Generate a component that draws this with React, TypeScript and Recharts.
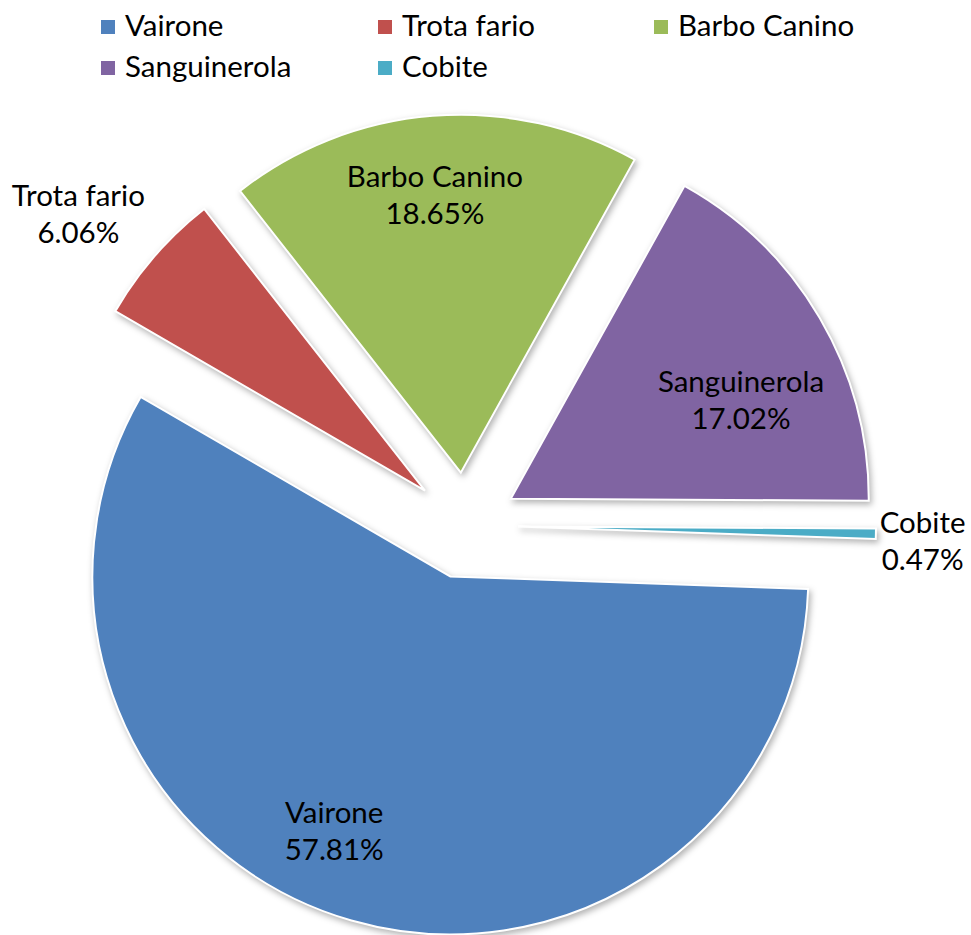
import React from "react";
import { PieChart, Pie, Cell, Legend } from "recharts";

// species and their share of the catch (%)
const species = ["Vairone", "Trota fario", "Barbo Canino", "Sanguinerola", "Cobite"];
const shares = [57.81, 6.06, 18.65, 17.02, 0.47];

const palette = ["#4F81BD", "#C0504D", "#9BBB59", "#8064A2", "#4BACC6"];

const data = species.map((name, i) => ({ name, value: shares[i] }));
const total = shares.reduce((a, b) => a + b, 0);

const W = 971;
const H = 935;
const LEGEND_H = 90;
const CX = 465;
const CY = 525.5;
const R = 358;
const EXPLODE = 53;
const START = -2;
const RAD = Math.PI / 180;
const FONT = "Lato, 'Open Sans', sans-serif";
const FS = 29.5;

// label spot per slice: fraction of radius + angle nudge from the slice middle
const labelSpots = [
  { reach: 0.781, nudge: -8.5 },
  { reach: 1.239, nudge: 2.4 },
  { reach: 0.779, nudge: 0.8 },
  { reach: 0.7, nudge: -7.1 },
  { reach: 1.131, nudge: -0.9 },
];

const legendCols = [101, 378, 654];
const legendRows = [20, 61];

function midAngleOf(i: number) {
  const before = shares.slice(0, i).reduce((a, b) => a + b, 0);
  return START - ((before + shares[i] / 2) / total) * 360;
}

function LegendBlock() {
  return (
    <svg width={W} height={LEGEND_H} style={{ display: "block" }}>
      {species.map((name, i) => {
        const x = legendCols[i % 3];
        const y = legendRows[Math.floor(i / 3)];
        return (
          <g key={name}>
            <rect x={x} y={y} width={14} height={14} fill={palette[i]} />
            <text x={x + 24} y={y + 16} fontFamily={FONT} fontSize={FS} fill="#000">
              {name}
            </text>
          </g>
        );
      })}
    </svg>
  );
}

const makeLabel = (target: number) => (props: any) => {
  const idx = props.index ?? species.indexOf(props.name);
  if (idx !== target) return null;
  const spot = labelSpots[target];
  const ang = (props.midAngle + spot.nudge) * RAD;
  const dist = props.outerRadius * spot.reach;
  const x = props.cx + dist * Math.cos(ang);
  const y = props.cy - dist * Math.sin(ang);
  return (
    <text x={x} y={y} textAnchor="middle" fontFamily={FONT} fontSize={FS} fill="#000">
      <tspan x={x} y={y - 8}>{props.name}</tspan>
      <tspan x={x} y={y + 29}>{Number(props.value).toFixed(2)}%</tspan>
    </text>
  );
};

export default function App() {
  return (
    <div style={{ position: "absolute", left: 0, top: 0, background: "#fff" }}>
      <PieChart width={W} height={H} margin={{ top: 0, right: 0, bottom: 0, left: 0 }}>
        <Legend
          verticalAlign="top"
          align="left"
          wrapperStyle={{ left: 0, top: 0, width: W, height: LEGEND_H }}
          content={() => <LegendBlock />}
        />
        {/* one pie per slice so every slice can be pulled out along its own middle */}
        {species.map((name, target) => {
          const mid = midAngleOf(target);
          return (
            <Pie
              key={name}
              data={data}
              dataKey="value"
              nameKey="name"
              cx={CX + EXPLODE * Math.cos(mid * RAD)}
              cy={CY - EXPLODE * Math.sin(mid * RAD) - LEGEND_H}
              outerRadius={R}
              startAngle={START}
              endAngle={START - 360}
              label={makeLabel(target)}
              labelLine={false}
              isAnimationActive={false}
            >
              {data.map((d, i) =>
                i === target ? (
                  <Cell
                    key={d.name}
                    fill={palette[i]}
                    stroke="#fff"
                    strokeWidth={2}
                    style={{ filter: "drop-shadow(2px 3px 3px rgba(0,0,0,0.3))" }}
                  />
                ) : (
                  <Cell key={d.name} fill="none" stroke="none" />
                )
              )}
            </Pie>
          );
        })}
      </PieChart>
    </div>
  );
}
